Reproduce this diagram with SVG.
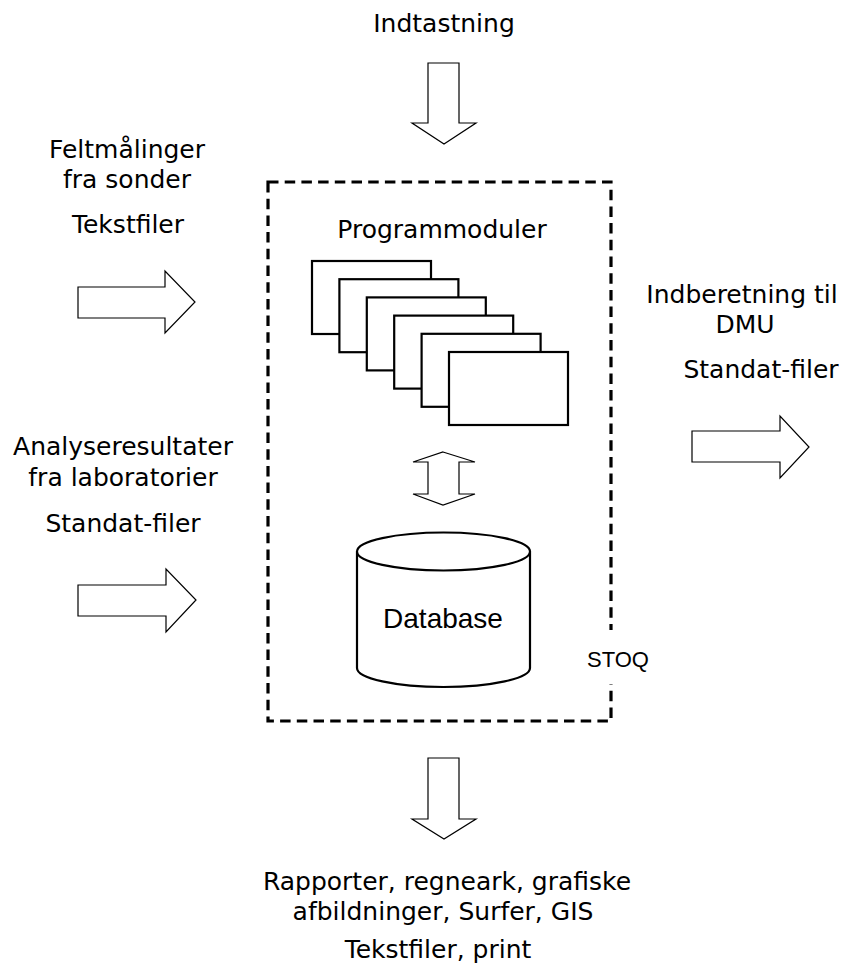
<svg xmlns="http://www.w3.org/2000/svg" width="849" height="975" viewBox="0 0 849 975">
<style>
text{font-family:"DejaVu Sans","Verdana",sans-serif;font-size:25px;fill:#000;text-anchor:middle}
.arial{font-family:"Liberation Sans",Arial,sans-serif}
.arrow{fill:#fff;stroke:#000;stroke-width:1.2;stroke-linejoin:miter}
.mod{fill:#fff;stroke:#000;stroke-width:2.2}
.box{fill:none;stroke:#000;stroke-width:3.2;stroke-dasharray:10.5 6.2}
</style>
<rect width="849" height="975" fill="#fff"/>
<g id="stoq">
<rect class="box" x="268" y="182" width="343" height="539"/>
<rect x="583" y="630" width="72" height="54" fill="#fff"/>
<text class="arial" x="618" y="667" style="font-size:22px">STOQ</text>
</g>
<g id="programmoduler">
<text x="442" y="238">Programmoduler</text>
<rect class="mod" x="312" y="261" width="119" height="73"/>
<rect class="mod" x="339.4" y="279.2" width="119" height="73"/>
<rect class="mod" x="366.8" y="297.4" width="119" height="73"/>
<rect class="mod" x="394.2" y="315.6" width="119" height="73"/>
<rect class="mod" x="421.6" y="333.8" width="119" height="73"/>
<rect class="mod" x="449" y="352" width="119" height="73"/>
</g>
<g id="database">
<path class="mod" d="M357,551.5 V668 A86.5,19 0 0 0 530,668 V551.5"/>
<ellipse class="mod" cx="443.5" cy="551.5" rx="86.5" ry="19"/>
<text class="arial" x="443" y="628" style="font-size:28px">Database</text>
</g>
<g id="indtastning">
<text x="444" y="32">Indtastning</text>
</g>
<g id="feltmaalinger">
<text x="127" y="158">Feltmålinger</text>
<text x="127" y="188">fra sonder</text>
<text x="128" y="233">Tekstfiler</text>
</g>
<g id="analyseresultater">
<text x="123" y="455">Analyseresultater</text>
<text x="123" y="486">fra laboratorier</text>
<text x="123" y="532">Standat-filer</text>
</g>
<g id="indberetning">
<text x="742" y="303">Indberetning til</text>
<text x="745" y="333">DMU</text>
<text x="761" y="378">Standat-filer</text>
</g>
<g id="rapporter">
<text x="447" y="890">Rapporter, regneark, grafiske</text>
<text x="443" y="920">afbildninger, Surfer, GIS</text>
<text x="438" y="958">Tekstfiler, print</text>
</g>
<g id="connectors">
<path class="arrow" d="M428,63 H459 V123 H476 L444,144 L412,123 H428 Z"/>
<path class="arrow" d="M428,758 H459 V819 H476 L444,839 L412,819 H428 Z"/>
<path class="arrow" d="M78,287 H165 V271 L195,302 L165,333 V318 H78 Z"/>
<path class="arrow" d="M78,585 H166 V569 L196,600 L166,632 V616 H78 Z"/>
<path class="arrow" d="M692,431 H780 V416 L809,447 L780,478 V462 H692 Z"/>
<path class="arrow" d="M443,452 L475,462 H459 V494 H475 L443,505 L413,494 H428 V462 H413 Z"/>
</g>
</svg>
